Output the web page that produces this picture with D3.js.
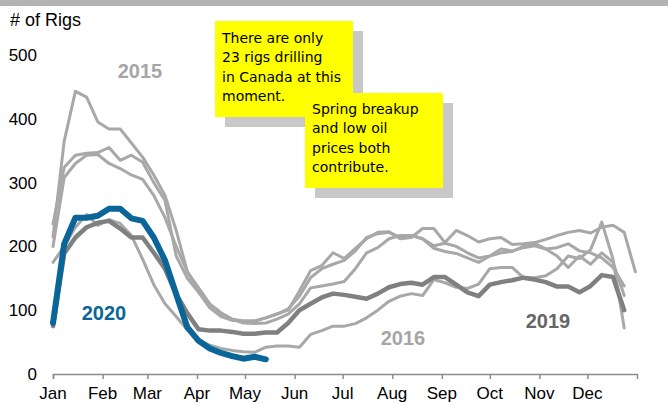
<!DOCTYPE html>
<html>
<head>
<meta charset="utf-8">
<script src="https://cdn.jsdelivr.net/npm/d3@7"></script>
<style>
  html, body { margin: 0; padding: 0; background: #fff; }
  svg { display: block; }
</style>
</head>
<body>
<svg id="chart" width="668" height="404"></svg>
<script>
// ---- Data (weekly Canadian rig counts, week index 0..) ----
const months = ["Jan","Feb","Mar","Apr","May","Jun","Jul","Aug","Sep","Oct","Nov","Dec"];
const monthStartDays = [0,31,59,90,120,151,181,212,243,273,304,334];
const yTicks = [0,100,200,300,400,500];

const s2015 = [215,365,443,434,395,384,384,362,340,312,280,225,160,130,104,92,86,83,83,88,94,100,130,162,170,190,181,197,212,222,223,212,214,228,228,206,225,217,207,212,214,203,204,206,211,217,222,225,221,230,233,222,160];
const s2016 = [175,200,230,250,233,242,236,217,180,140,110,90,69,54,45,40,37,35,34,42,44,44,42,62,68,75,75,79,88,100,114,122,126,123,148,143,136,134,141,165,167,167,151,151,154,165,185,181,195,238,180,72];
const s2017 = [235,324,343,346,347,355,335,343,332,300,272,185,150,128,104,90,84,83,83,88,94,102,122,151,165,172,178,193,214,220,222,214,217,212,197,192,189,182,175,185,196,193,198,201,196,198,204,193,190,182,167,138];
const s2018 = [200,308,330,343,344,330,322,312,305,280,245,200,160,135,110,96,86,80,79,80,86,94,110,135,138,141,145,165,190,198,212,217,217,212,201,205,200,190,182,185,190,192,200,205,196,185,167,185,172,190,175,123];
const s2019 = [75,189,214,230,237,240,228,214,214,190,165,125,95,70,68,68,66,63,63,65,65,80,100,110,120,126,124,121,118,126,136,141,143,140,152,152,140,128,122,140,144,147,151,148,144,137,137,128,138,155,152,100];
const s2020 = [80,204,245,245,248,259,259,244,240,214,178,125,73,52,40,33,28,24,27,23];

const greySeries = [s2015, s2016, s2017, s2018];

const labels = [
  {text:"2015", value:[140, 71], color:"#a6a6a6"},
  {text:"2016", value:[403, 338], color:"#a6a6a6"},
  {text:"2019", value:[548, 321], color:"#666666"},
  {text:"2020", value:[104, 313], color:"#0a6699"}
];

const notes = [
  {lines:["There are only","23 rigs drilling","in Canada at this","moment."]},
  {lines:["Spring breakup","and low oil","prices both","contribute."]}
];

// ---- Drawing ----
const svg = d3.select("#chart");
const W = 668, H = 404;

svg.append("rect").attr("x",0).attr("y",0).attr("width",W).attr("height",H).attr("fill","#fff");
svg.append("rect").attr("x",0).attr("y",0).attr("width",W).attr("height",6).attr("fill","#b3b3b3");

const x = d3.scaleLinear().domain([0,365]).range([53,637]);
const y = d3.scaleLinear().domain([0,500]).range([374,55]);
const xw = i => x(i*7);

const font = "Arial, 'Liberation Sans', Helvetica, sans-serif";

// Y label
svg.append("text").attr("x",10).attr("y",26).text("# of Rigs")
  .attr("font-family",font).attr("font-size",18).attr("fill","#000");

// Y tick labels
svg.append("g").selectAll("text").data(yTicks).join("text")
  .attr("x",37).attr("y",d=>y(d)).attr("dy","0.35em")
  .attr("text-anchor","end").attr("font-family",font).attr("font-size",17)
  .attr("fill","#000").text(d=>d);

// X axis
const xAxis = d3.axisBottom(x).tickValues(monthStartDays.concat([365]))
  .tickSize(5).tickFormat("");
const gx = svg.append("g").attr("transform","translate(0,374)").call(xAxis);
gx.select(".domain").attr("stroke","#8c8c8c").attr("stroke-width",1.5);
gx.selectAll(".tick line").attr("stroke","#8c8c8c").attr("stroke-width",1.5);
gx.selectAll(".tick").filter(d=>d===365).remove();

svg.append("g").selectAll("text").data(months).join("text")
  .attr("x",(d,i)=>x(monthStartDays[i])).attr("y",399)
  .attr("text-anchor","middle").attr("font-family",font).attr("font-size",17)
  .attr("fill","#000").text(d=>d);

// Lines
const line = d3.line().x((d,i)=>xw(i)).y(d=>y(d));

svg.append("g").selectAll("path").data(greySeries).join("path")
  .attr("d",line).attr("fill","none").attr("stroke","#a8a8a8")
  .attr("stroke-width",3).attr("stroke-linejoin","round").attr("stroke-linecap","round");

svg.append("path").datum(s2019).attr("d",line).attr("fill","none")
  .attr("stroke","#808080").attr("stroke-width",4.5)
  .attr("stroke-linejoin","round").attr("stroke-linecap","round");

svg.append("path").datum(s2020).attr("d",line).attr("fill","none")
  .attr("stroke","#0a6699").attr("stroke-width",6)
  .attr("stroke-linejoin","round").attr("stroke-linecap","round");

// Year labels
svg.append("g").selectAll("text").data(labels).join("text")
  .attr("x",d=>d.value[0]).attr("y",d=>d.value[1]).attr("dy","0.35em")
  .attr("text-anchor","middle").attr("font-family",font).attr("font-size",20)
  .attr("font-weight","bold").attr("fill",d=>d.color).text(d=>d.text);

// Notes
const boxes = [
  {x:215, y:21, w:138, h:96, tx:222, ty:43},
  {x:305, y:93, w:138, h:95, tx:312, ty:114}
];
const noteFont = "'DejaVu Sans', Verdana, sans-serif";
boxes.forEach((b,i)=>{
  const g = svg.append("g");
  g.append("rect").attr("x",b.x+10).attr("y",b.y+10).attr("width",b.w).attr("height",b.h).attr("fill","#c8c8c8");
  g.append("rect").attr("x",b.x).attr("y",b.y).attr("width",b.w).attr("height",b.h).attr("fill","#ffff00");
  g.selectAll("text").data(notes[i].lines).join("text")
    .attr("x",b.tx).attr("y",(d,j)=>b.ty+j*19.3)
    .attr("font-family",noteFont).attr("font-size",14).attr("fill","#000").text(d=>d);
});
</script>
</body>
</html>
